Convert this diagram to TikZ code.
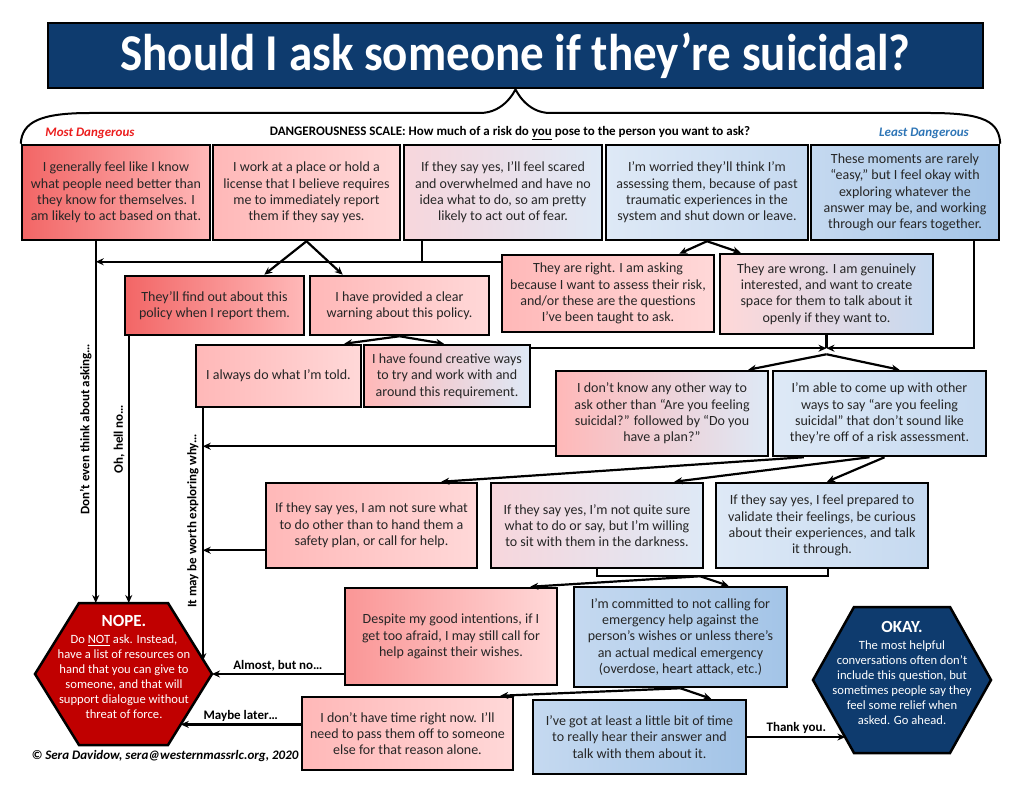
\documentclass[tikz,border=0pt]{standalone}
\usepackage{fontspec}
\setmainfont{Carlito}
\usepackage{graphicx}
\usetikzlibrary{arrows.meta, positioning, calc}
\definecolor{titlenavy}{RGB}{14,59,110}
\definecolor{nopered}{RGB}{192,0,0}
\definecolor{redS}{RGB}{242,102,102}
\definecolor{redM}{RGB}{250,150,150}
\definecolor{pinkA}{RGB}{255,184,184}
\definecolor{pinkB}{RGB}{255,216,216}
\definecolor{mauve}{RGB}{247,214,220}
\definecolor{blueA}{RGB}{222,233,246}
\definecolor{blueB}{RGB}{197,217,240}
\definecolor{blueC}{RGB}{163,196,231}
\definecolor{mostred}{RGB}{235,30,30}
\definecolor{leastblue}{RGB}{46,117,182}
\definecolor{inkgray}{RGB}{38,38,38}
\newcommand{\boxfont}{\fontsize{14}{16.3}\selectfont}
\newcommand{\lblfont}{\fontsize{13}{15}\selectfont\bfseries}
\newcommand{\hexfont}{\fontsize{12.6}{15}\selectfont}
\newcommand{\titlefont}{\fontsize{47}{50}\selectfont\bfseries}

\begin{document}
\begin{tikzpicture}[
    x=1pt, y=-1pt,
    every node/.style={font=\boxfont, text=inkgray},
    box/.style={rectangle, draw=black, line width=2.5pt, align=center, inner sep=0pt},
    hot/.style={left color=redS, right color=pinkA},
    hotwarm/.style={left color=redM, right color=pinkB},
    warm/.style={left color=pinkA, right color=pinkB},
    mixed/.style={left color=mauve, right color=blueA},
    pinkmix/.style={left color=pinkB, right color=blueB},
    pinkblue/.style={left color=pinkA, right color=blueA},
    cool/.style={left color=blueA, right color=blueB},
    cold/.style={left color=blueB, right color=blueC},
    titlebox/.style={rectangle, draw=black, line width=2.5pt, fill=titlenavy, text=white, font=\titlefont, inner sep=0pt},
    arrow/.style={-{Stealth[length=8pt, width=7pt]}, line width=2.2pt},
    link/.style={line width=2.2pt},
    bracket/.style={line width=2.2pt},
    vlabel/.style={midway, rotate=90, anchor=south, inner sep=3pt, font=\lblfont, text=black},
    elabel/.style={midway, above, inner sep=2pt, font=\lblfont, text=black},
    hexnope/.style={draw=black, line width=2.5pt, fill=nopered},
    hexok/.style={draw=black, line width=2.5pt, fill=titlenavy},
    hextext/.style={align=center, text=white, font=\hexfont, inner sep=0pt}
]
\useasboundingbox (0,0) rectangle (1024,791);

% Title and scale
\node (title) [titlebox, minimum width=935, minimum height=65] at (515.5,55.5) {\scalebox{1}[1.1]{Should I ask someone if they’re suicidal?}};
\node (most) [font=\lblfont\itshape, text=mostred] at (90,133) {Most Dangerous};
\node (scale) [font=\lblfont, text=black] at (510,133) {DANGEROUSNESS SCALE: How much of a risk do \underline{you} pose to the person you want to ask?};
\node (least) [font=\lblfont\itshape, text=leastblue] at (924,133) {Least Dangerous};

% Top row
\node (b1) [box, hot, minimum width=188, minimum height=95] at (116,192.5) {I generally feel like I know\\ what people need better than\\ they know for themselves. I\\ am likely to act based on that.};
\node (b2) [box, warm, minimum width=187, minimum height=95] at (306.5,192.5) {I work at a place or hold a\\ license that I believe requires\\ me to immediately report\\ them if they say yes.};
\node (b3) [box, mixed, minimum width=198, minimum height=95] at (503,192.5) {If they say yes, I’ll feel scared\\ and overwhelmed and have no\\ idea what to do, so am pretty\\ likely to act out of fear.};
\node (b4) [box, cool, minimum width=202, minimum height=95] at (707,192.5) {I’m worried they’ll think I’m\\ assessing them, because of past\\ traumatic experiences in the\\ system and shut down or leave.};
\node (b5) [box, cold, minimum width=188, minimum height=95] at (905,192.5) {These moments are rarely\\ “easy,” but I feel okay with\\ exploring whatever the\\ answer may be, and working\\ through our fears together.};

% Brace
\draw[line width=2pt] (b1.north west) .. controls (22,122) and (40,113) .. (90,113) -- (480,113)
  .. controls (505,113) and (title.south) .. (title.south)
  .. controls (title.south) and (526,113) .. (550,113) -- (930,113)
  .. controls (985,113) and (999,122) .. (b5.north east);

% Second row
\node (find) [box, hot, minimum width=179, minimum height=59] at (214.5,305.5) {They’ll find out about this\\ policy when I report them.};
\node (warn) [box, warm, minimum width=179, minimum height=59] at (399.5,305.5) {I have provided a clear\\ warning about this policy.};
\node (assess) [box, warm, minimum width=212, minimum height=77] at (608,293.5) {They are right. I am asking\\ because I want to assess their risk,\\ and/or these are the questions\\ I’ve been taught to ask.};
\node (genuine) [box, pinkmix, minimum width=213, minimum height=80] at (826.5,294) {They are wrong. I am genuinely\\ interested, and want to create\\ space for them to talk about it\\ openly if they want to.};

% Third row
\node (told) [box, warm, minimum width=165, minimum height=62] at (278.5,376) {I always do what I’m told.};
\node (creative) [box, pinkblue, minimum width=166, minimum height=62] at (447,376) {I have found creative ways\\ to try and work with and\\ around this requirement.};
\node (noother) [box, pinkblue, minimum width=212, minimum height=85] at (662,413.5) {I don’t know any other way to\\ ask other than “Are you feeling\\ suicidal?” followed by “Do you\\ have a plan?”};
\node (able) [box, cool, minimum width=213, minimum height=85] at (879.5,413.5) {I’m able to come up with other\\ ways to say “are you feeling\\ suicidal” that don’t sound like\\ they’re off of a risk assessment.};

% Fourth row
\node (notsure) [box, warm, minimum width=211, minimum height=85] at (371.5,525.5) {If they say yes, I am not sure what\\ to do other than to hand them a\\ safety plan, or call for help.};
\node (quite) [box, mixed, minimum width=212, minimum height=85] at (597,525.5) {If they say yes, I’m not quite sure\\ what to do or say, but I’m willing\\ to sit with them in the darkness.};
\node (prepared) [box, cool, minimum width=212, minimum height=85] at (822,525.5) {If they say yes, I feel prepared to\\ validate their feelings, be curious\\ about their experiences, and talk\\ it through.};

% Fifth and sixth rows
\node (despite) [box, hotwarm, minimum width=212, minimum height=97] at (451,636.5) {Despite my good intentions, if I\\ get too afraid, I may still call for\\ help against their wishes.};
\node (committed) [box, cold, minimum width=213, minimum height=100] at (680.5,637) {I’m committed to not calling for\\ emergency help against the\\ person’s wishes or unless there’s\\ an actual medical emergency\\ (overdose, heart attack, etc.)};
\node (notime) [box, warm, minimum width=211, minimum height=73] at (407.5,733.5) {I don’t have time right now. I’ll\\ need to pass them off to someone\\ else for that reason alone.};
\node (gottime) [box, cold, minimum width=213, minimum height=74] at (639.5,737) {I’ve got at least a little bit of time\\ to really hear their answer and\\ talk with them about it.};

% Outcomes
\draw[hexnope] (124,674) ++(-89,0) coordinate (nopeW) -- ++(44,-71) coordinate (nopeNW) -- ++(89,0) coordinate (nopeNE)
  -- ++(44,71) coordinate (nopeE) -- ++(-44,71) coordinate (nopeSE) -- ++(-89,0) coordinate (nopeSW) -- cycle;
\node (nope) [hextext] at (124,667) {{\fontsize{17}{20}\selectfont\bfseries NOPE.}\\[2pt]
  Do \underline{NOT} ask. Instead,\\ have a list of resources on\\ hand that you can give to\\ someone, and that will\\ support dialogue without\\ threat of force.};
\draw[hexok] (902,680) ++(-89,0) coordinate (okW) -- ++(41,-73) coordinate (okNW) -- ++(96,0) coordinate (okNE)
  -- ++(41,73) coordinate (okE) -- ++(-41,73) coordinate (okSE) -- ++(-96,0) coordinate (okSW) -- cycle;
\node (okay) [hextext] at (902,673) {{\fontsize{17}{20}\selectfont\bfseries OKAY.}\\[2pt]
  The most helpful\\ conversations often don’t\\ include this question, but\\ sometimes people say they\\ feel some relief when\\ asked. Go ahead.};
\node (credit) [anchor=west, font=\lblfont\itshape, text=black] at (28,756) {© Sera Davidow, sera@westernmassrlc.org, 2020};

% Connector points
\coordinate (stem1) at ([xshift=75pt]b1.south west);
\coordinate (join1) at ([yshift=-8pt]assess.north west);
\coordinate (drop3) at ([xshift=19pt]b3.south west);
\coordinate (stem2) at ([xshift=5pt]find.south west);
\coordinate (stem3) at ([xshift=8pt]told.south west);
\coordinate (hub1) at ([yshift=-13pt]genuine.south);
\coordinate (split1) at ([yshift=-6pt]hub1);
\coordinate (out1) at ([yshift=11pt]noother.south west);
\coordinate (out2) at ([yshift=19pt]notsure.south west);
\coordinate (nopeIn1) at ($(nopeNE)!0.82!(nopeE)$);
\coordinate (nopeIn2) at ($(nopeE)!0.71!(nopeSE)$);
\coordinate (okIn) at ($(okW)!0.79!(okSW)$);

% Arrows
\draw[arrow] (stem1) -- node[vlabel, pos=0.52] {Don’t even think about asking…} (stem1 |- nopeNW);
\draw[arrow] (join1) -- (join1 -| stem1);
\draw[link] (drop3) -- (drop3 |- join1);
\draw[arrow] (b2.south) -- ([xshift=-41pt]find.north east);
\draw[arrow] (b2.south) -- ([xshift=34pt]warn.north west);
\draw[arrow] (stem2) -- node[vlabel, pos=0.385] {Oh, hell no…} (stem2 |- nopeNW);
\draw[arrow] (warn.south) -- ([xshift=-18pt]told.north east);
\draw[arrow] (warn.south) -- ([xshift=-3pt]creative.north);
\draw[arrow] (stem3) -- node[vlabel, pos=0.445] {It may be worth exploring why…} (stem3 |- nopeIn1);
\draw[arrow] (b4.south) -- ([xshift=-36pt]assess.north east);
\draw[arrow] (b4.south) -- ([xshift=22pt]genuine.north west);
\draw[arrow] (creative.north east |- hub1) -- (hub1);
\draw[arrow] ([xshift=-26pt]b5.south east) |- (hub1);
\draw[link] (genuine.south) -- (hub1);
\draw[arrow] (split1) -- ([xshift=-21pt]noother.north east);
\draw[arrow] (split1) -- ([xshift=20pt]able.north);
\draw[arrow] (out1) -- (out1 -| stem3);
\draw[arrow] (out2) -- (out2 -| stem3);
\draw[arrow] ([xshift=32pt]able.south west) -- ([xshift=-37pt]notsure.north east);
\draw[arrow] ([xshift=-10pt]able.south) -- ([xshift=-30pt]quite.north east);
\draw[arrow] ([xshift=5pt]able.south) -- ([xshift=5pt]prepared.north);
\draw[bracket] (quite.south) -- ++(0,7) coordinate (brk) -| ([xshift=6pt]prepared.south);
\coordinate (hub2) at ([xshift=103pt]brk);
\draw[arrow] (hub2) -- ([xshift=-28pt]despite.north east);
\draw[arrow] (hub2) -- ([xshift=48pt]committed.north);
\draw[arrow] (nopeE -| despite.west) -- node[elabel] {Almost, but no…} (nopeE);
\draw[arrow] (committed.south) -- ([xshift=-14pt]notime.north east);
\draw[arrow] (committed.south) -- ([xshift=-36pt]gottime.north east);
\draw[arrow] (nopeIn2 -| notime.west) -- node[elabel] {Maybe later…} (nopeIn2);
\draw[arrow] (gottime.east) -- node[elabel] {Thank you.} (gottime.east -| okIn);

\end{tikzpicture}
\end{document}
